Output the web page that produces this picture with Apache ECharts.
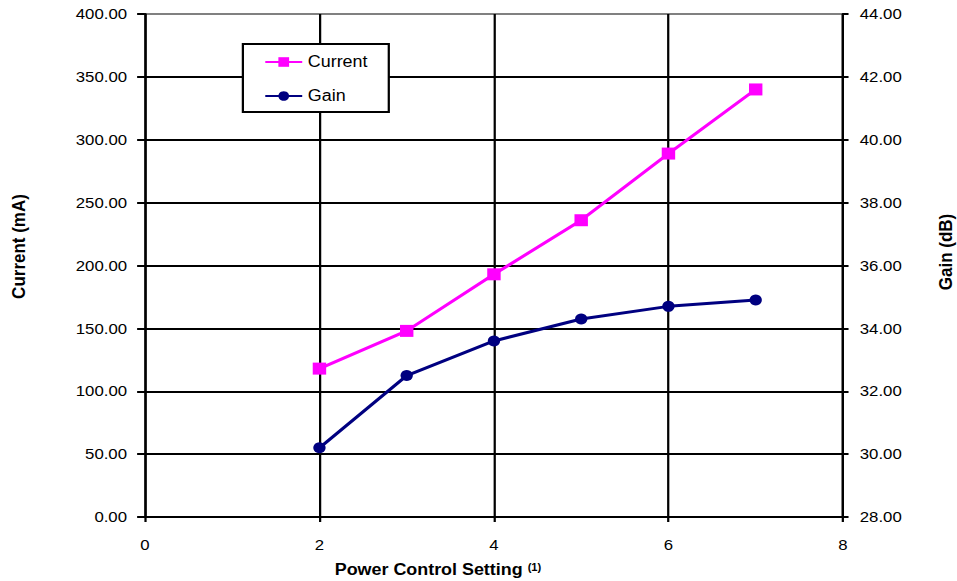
<!DOCTYPE html>
<html>
<head>
<meta charset="utf-8">
<script src="https://cdn.jsdelivr.net/npm/echarts@6/dist/echarts.min.js"></script>
<style>
  html, body { margin: 0; padding: 0; background: #fff; overflow: hidden; }
  #main { width: 855px; height: 581px; transform: scaleX(1.1193); transform-origin: 0 0; }
</style>
</head>
<body>
<div id="main"></div>
<script>
// ---- data ----
var settings = [2, 3, 4, 5, 6, 7];
var currentMA = [118, 148, 193, 236, 289, 340];
var gainDB = [30.2, 32.5, 33.6, 34.3, 34.7, 34.9];
var seriesNames = ['Current', 'Gain'];
var xAxisTitle = 'Power Control Setting ';
var xAxisNote = '(1)';
var leftAxisTitle = 'Current (mA)';
var rightAxisTitle = 'Gain (dB)';

var FONT = '"Liberation Sans", Arial, Helvetica, sans-serif';
var chart = echarts.init(document.getElementById('main'), null, { renderer: 'svg' });

function pairs(xs, ys) { return xs.map(function (x, i) { return [x, ys[i]]; }); }

var gridColors = ['#000', '#000', '#000', '#000', '#000', '#000', '#000', '#000', '#808080'];

chart.setOption({
  animation: false,
  backgroundColor: '#fff',
  textStyle: { fontFamily: FONT, color: '#000' },
  grid: { left: 129.5, right: 101.9, top: 14, bottom: 64, containLabel: false, outerBoundsMode: 'none' },
  legend: {
    data: seriesNames,
    orient: 'vertical',
    left: 217,
    top: 44,
    padding: [10, 19, 8, 19],
    itemWidth: 33,
    itemHeight: 12,
    itemGap: 18,
    backgroundColor: '#fff',
    borderColor: '#000',
    borderWidth: 2,
    borderRadius: 0,
    textStyle: { fontFamily: FONT, fontSize: 16, color: '#000' }
  },
  xAxis: {
    type: 'value',
    min: 0, max: 8, interval: 2,
    name: '{a|' + xAxisTitle + '}{b|' + xAxisNote + '}',
    nameLocation: 'middle',
    nameGap: 45,
    nameTextStyle: {
      padding: [0, 100, 0, 0],
      rich: {
        a: { fontFamily: FONT, fontSize: 16, fontWeight: 'bold', color: '#000' },
        b: { fontFamily: FONT, fontSize: 10, fontWeight: 'bold', color: '#000', verticalAlign: 'top' }
      }
    },
    axisLine: { show: true, onZero: false, lineStyle: { color: '#000', width: 2 } },
    axisTick: { show: true, inside: false, length: 5, lineStyle: { color: '#000', width: 2 } },
    axisLabel: { fontFamily: FONT, fontSize: 15, color: '#000', margin: 20 },
    splitLine: { show: true, lineStyle: { color: '#000', width: 2 } }
  },
  yAxis: [
    {
      type: 'value',
      position: 'left',
      min: 0, max: 400, interval: 50,
      name: leftAxisTitle,
      nameLocation: 'middle',
      nameRotate: 90,
      nameGap: 104,
      nameTextStyle: { fontFamily: FONT, fontSize: 17, fontWeight: 'bold', color: '#000', padding: [0, 0, 0, 38] },
      axisLine: { show: true, lineStyle: { color: '#000', width: 2 } },
      axisTick: { show: true, inside: false, length: 7, lineStyle: { color: '#000', width: 2 } },
      axisLabel: { fontFamily: FONT, fontSize: 15, color: '#000', margin: 16, formatter: function (v) { return v.toFixed(2); } },
      splitLine: { show: true, lineStyle: { color: gridColors, width: 2 } }
    },
    {
      type: 'value',
      position: 'right',
      min: 28, max: 44, interval: 2,
      name: rightAxisTitle,
      nameLocation: 'middle',
      nameRotate: 90,
      nameGap: 83,
      nameTextStyle: { fontFamily: FONT, fontSize: 17, fontWeight: 'bold', color: '#000', padding: [0, 0, 0, 27] },
      axisLine: { show: true, lineStyle: { color: '#000', width: 2 } },
      axisTick: { show: true, inside: false, length: 5, lineStyle: { color: '#000', width: 2 } },
      axisLabel: { fontFamily: FONT, fontSize: 15, color: '#000', margin: 15, formatter: function (v) { return v.toFixed(2); } },
      splitLine: { show: false }
    }
  ],
  series: [
    {
      name: seriesNames[0],
      type: 'line',
      yAxisIndex: 0,
      data: pairs(settings, currentMA),
      symbol: 'rect',
      symbolSize: 12,
      lineStyle: { color: '#FF00FF', width: 3 },
      itemStyle: { color: '#FF00FF' },
      z: 3
    },
    {
      name: seriesNames[1],
      type: 'line',
      yAxisIndex: 1,
      data: pairs(settings, gainDB),
      symbol: 'circle',
      symbolSize: 11,
      lineStyle: { color: '#000080', width: 3 },
      itemStyle: { color: '#000080' },
      z: 3
    }
  ]
});
</script>
</body>
</html>
